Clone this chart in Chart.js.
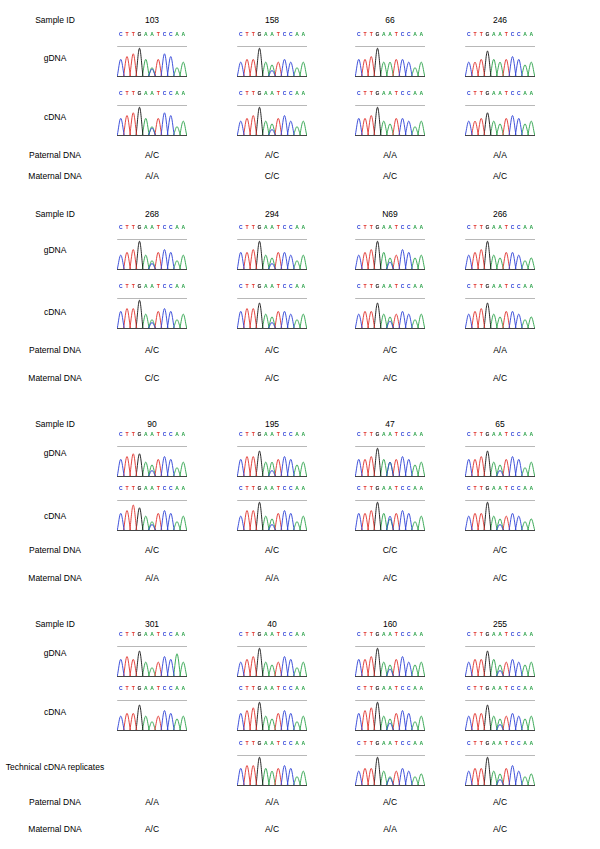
<!DOCTYPE html>
<html><head><meta charset="utf-8">
<script src="https://cdn.jsdelivr.net/npm/chart.js@4/dist/chart.umd.min.js"></script>
<style>
body{margin:0;background:#fff;font-family:"Liberation Sans",Arial,sans-serif;}
#page{position:relative;width:600px;height:849px;}
.t{position:absolute;font-size:8.5px;color:#000;transform:translate(-50%,-50%);white-space:nowrap;}
.c{position:absolute;width:70px;height:52px;}
</style></head><body><div id="page"></div>
<script>
// base calls shared by all traces
var bases = ['C','T','T','G','A','A','T','C','C','A','A'];
var baseColors = {C:'#2b3fd6', T:'#e0302a', G:'#111111', A:'#27a046'};

var sampleIds = [['103','158','66','246'],['268','294','N69','266'],['90','195','47','65'],['301','40','160','255']];
var paternal = [['A/C','A/C','A/A','A/A'],['A/C','A/C','A/C','A/A'],['A/C','A/C','C/C','A/C'],['A/A','A/A','A/C','A/C']];
var maternal = [['A/A','C/C','A/C','A/C'],['C/C','A/C','A/C','A/C'],['A/A','A/A','A/C','A/C'],['A/C','A/C','A/A','A/C']];

// peak heights per base (0..1), gDNA / cDNA / technical replicate rows
var gdnaPeaks = [
  [[.6,.7,.8,1,.6,.3,.6,.8,.7,.3,.5],[.5,.6,.6,1,.5,.4,.5,.6,.5,.3,.5],[.6,.6,.7,1,.5,.5,.6,.6,.5,.3,.5],[.5,.5,.6,.9,.6,.5,.6,.7,.6,.4,.5]],
  [[.5,.6,.7,1,.5,.3,.6,.7,.6,.3,.5],[.6,.6,.7,1,.5,.4,.6,.6,.5,.3,.5],[.5,.6,.7,1,.6,.4,.5,.7,.6,.4,.5],[.5,.6,.7,1,.5,.4,.6,.6,.5,.3,.4]],
  [[.6,.7,.8,.8,.5,.4,.6,.7,.6,.3,.5],[.6,.7,.7,.9,.5,.5,.6,.7,.6,.4,.5],[.6,.6,.7,1,.6,.5,.6,.7,.6,.4,.5],[.6,.6,.7,.9,.5,.4,.6,.7,.6,.3,.5]],
  [[.6,.7,.6,.9,.5,.3,.5,.7,.6,.8,.5],[.5,.6,.7,1,.5,.4,.5,.7,.6,.3,.5],[.6,.6,.7,1,.5,.4,.6,.7,.5,.4,.5],[.5,.6,.6,.9,.6,.4,.5,.6,.5,.4,.5]]
];
var cdnaPeaks = [
  [[.6,.7,.8,1,.6,.3,.6,.8,.7,.3,.5],[.5,.6,.7,1,.5,.4,.6,.7,.5,.3,.5],[.6,.6,.7,1,.5,.4,.6,.6,.5,.3,.5],[.5,.5,.6,.8,.5,.4,.6,.7,.6,.4,.5]],
  [[.6,.7,.7,1,.5,.3,.6,.7,.6,.3,.5],[.6,.7,.7,.9,.5,.4,.6,.6,.5,.3,.5],[.5,.6,.6,.9,.5,.4,.5,.6,.5,.3,.5],[.5,.6,.7,.9,.5,.4,.6,.6,.5,.3,.4]],
  [[.6,.7,.9,.8,.5,.3,.6,.7,.6,.3,.5],[.5,.7,.7,1,.5,.4,.6,.7,.6,.3,.5],[.6,.6,.7,1,.6,.4,.6,.7,.6,.3,.5],[.5,.6,.6,1,.5,.4,.5,.6,.5,.3,.4]],
  [[.5,.6,.6,.9,.5,.3,.5,.7,.6,.4,.5],[.6,.7,.8,1,.5,.4,.6,.7,.6,.3,.5],[.6,.7,.8,1,.5,.4,.6,.7,.6,.3,.5],[.5,.6,.6,.9,.5,.4,.5,.6,.5,.4,.5]]
];
var techPeaks = [null,[.6,.7,.7,1,.6,.5,.6,.7,.6,.3,.5],[.5,.6,.6,1,.5,.3,.5,.6,.5,.3,.4],[.5,.6,.6,1,.5,.4,.6,.7,.5,.3,.4]];
// secondary C peak under the SNP position (index 5)
var snpSecond = [[.25,.2,0,0],[.2,.2,.25,0],[.2,.2,.5,.2],[0,0,.25,.2]];

// layout: label rows and chart tops
var colX = [152,272,390,500];
var labelX = 55;
var blockRows = [
  {id:20, g:58, gTop:32, c:117, cTop:91, p:155, m:176},
  {id:214, g:250, gTop:225, c:312, cTop:284, p:350, m:378},
  {id:424, g:453, gTop:432, c:516, cTop:486, p:550, m:578},
  {id:624, g:653, gTop:632, c:712, cTop:686, tech:767, tTop:741, p:802, m:829}
];

var page = document.getElementById('page');
function text(x, y, s) {
  var d = document.createElement('div');
  d.className = 't'; d.style.left = x + 'px'; d.style.top = y + 'px';
  d.textContent = s; page.appendChild(d);
}

function chrom(cx, top, peaks, second) {
  var box = document.createElement('div');
  box.className = 'c';
  box.style.left = (cx - 35) + 'px'; box.style.top = top + 'px';
  var cv = document.createElement('canvas');
  box.appendChild(cv); page.appendChild(box);
  var sets = {};
  Object.keys(baseColors).forEach(function (b) { sets[b] = []; });
  bases.forEach(function (b, i) {
    sets[b].push({x: i - 0.55, y: 0}, {x: i, y: peaks[i]}, {x: i + 0.55, y: 0}, {x: i + 0.6, y: null});
  });
  if (second) sets.C.push({x: 4.45, y: 0}, {x: 5, y: second}, {x: 5.55, y: 0});
  var ds = Object.keys(sets).map(function (b) {
    return {data: sets[b], borderColor: baseColors[b], borderWidth: 0.9, pointRadius: 0, tension: 0.35, spanGaps: false};
  });
  new Chart(cv, {
    type: 'line',
    data: {datasets: ds},
    options: {
      responsive: true, maintainAspectRatio: false, animation: false,
      plugins: {legend: {display: false}, tooltip: {enabled: false}},
      layout: {padding: 0},
      scales: {
        x: {type: 'linear', position: 'top', min: -0.6, max: 10.6,
            afterBuildTicks: function (a) { a.ticks = bases.map(function (b, i) { return {value: i}; }); },
            ticks: {autoSkip: false, maxRotation: 0, padding: 0, font: {size: 5, weight: 'bold'},
                    callback: function (v) { return bases[v]; },
                    color: function (c) { return baseColors[bases[c.tick.value]]; }},
            grid: {display: false}, border: {color: '#888', width: 0.6}},
        xb: {type: 'linear', position: 'bottom', min: -0.6, max: 10.6, ticks: {display: false},
             grid: {display: false}, border: {color: '#444', width: 1}},
        y: {min: 0, max: 1.08, display: false}
      }
    }
  });
}

blockRows.forEach(function (r, bi) {
  text(labelX, r.id, 'Sample ID');
  text(labelX, r.g, 'gDNA');
  text(labelX, r.c, 'cDNA');
  text(labelX, r.p, 'Paternal DNA');
  text(labelX, r.m, 'Maternal DNA');
  if (r.tech) text(labelX, r.tech, 'Technical cDNA replicates');
  colX.forEach(function (x, ci) {
    text(x, r.id, sampleIds[bi][ci]);
    text(x, r.p, paternal[bi][ci]);
    text(x, r.m, maternal[bi][ci]);
    chrom(x, r.gTop, gdnaPeaks[bi][ci], snpSecond[bi][ci]);
    chrom(x, r.cTop, cdnaPeaks[bi][ci], snpSecond[bi][ci]);
    if (r.tech && techPeaks[ci]) chrom(x, r.tTop, techPeaks[ci], snpSecond[bi][ci]);
  });
});
</script></body></html>
